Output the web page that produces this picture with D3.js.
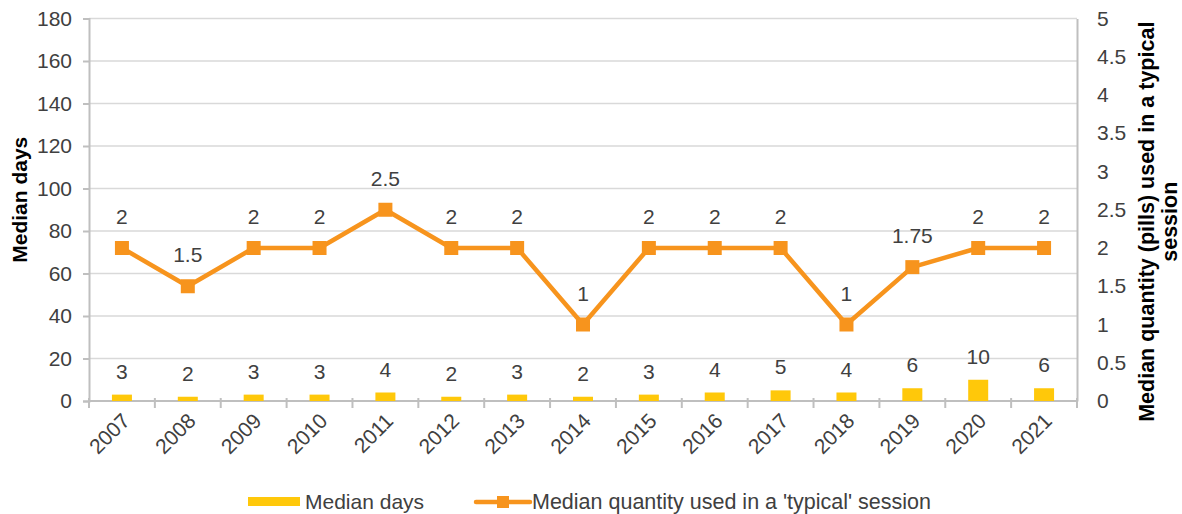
<!DOCTYPE html>
<html>
<head>
<meta charset="utf-8">
<script src="https://cdn.jsdelivr.net/npm/d3@7"></script>
<style>
  html, body { margin: 0; padding: 0; background: #fff; }
  svg { display: block; font-family: Arial, "Liberation Sans", sans-serif; }
</style>
</head>
<body>
<svg id="chart" width="1182" height="514"></svg>
<script>
// Years on the category axis
const years = ["2007","2008","2009","2010","2011","2012","2013","2014","2015","2016","2017","2018","2019","2020","2021"];
// Median days (bars, left axis)
const medianDays = [3, 2, 3, 3, 4, 2, 3, 2, 3, 4, 5, 4, 6, 10, 6];
// Median quantity used in a 'typical' session (line, right axis)
const medianQty = [2, 1.5, 2, 2, 2.5, 2, 2, 1, 2, 2, 2, 1, 1.75, 2, 2];
// Axis ticks
const leftTicks = [0, 20, 40, 60, 80, 100, 120, 140, 160, 180];
const rightTicks = [0, 0.5, 1, 1.5, 2, 2.5, 3, 3.5, 4, 4.5, 5];

const plot = { left: 89, right: 1077, top: 18.5, bottom: 401 };

const TEXT = "#404040", GRID = "#d9d9d9", AXIS = "#bfbfbf";
const BAR = "#ffc80a", LINE = "#f7941d";
const FS = 21;

const svg = d3.select("#chart");

const x = d3.scaleBand().domain(years).range([plot.left, plot.right]).paddingInner(0).paddingOuter(0);
const yL = d3.scaleLinear().domain([0, 180]).range([plot.bottom, plot.top]);
const yR = d3.scaleLinear().domain([0, 5]).range([plot.bottom, plot.top]);

// Horizontal gridlines
svg.append("g")
  .selectAll("line").data(leftTicks.filter(d => d > 0)).join("line")
  .attr("x1", plot.left).attr("x2", plot.right)
  .attr("y1", d => yL(d)).attr("y2", d => yL(d))
  .attr("stroke", GRID).attr("stroke-width", 1.3);

// Left axis
const gL = svg.append("g").attr("transform", `translate(${plot.left},0)`)
  .call(d3.axisLeft(yL).tickValues(leftTicks).tickSize(6).tickPadding(11).tickFormat(d3.format("d")));
gL.select(".domain").attr("stroke", AXIS).attr("stroke-width", 2);
gL.selectAll(".tick line").attr("stroke", AXIS).attr("stroke-width", 2);
gL.selectAll(".tick text").attr("fill", TEXT).attr("font-size", FS).attr("font-family", "Arial, 'Liberation Sans', sans-serif");

// Right axis
const gR = svg.append("g").attr("transform", `translate(${plot.right},0)`)
  .call(d3.axisRight(yR).tickValues(rightTicks).tickSize(0).tickPadding(20).tickFormat(d => String(d)));
gR.select(".domain").attr("stroke", AXIS).attr("stroke-width", 2);
gR.selectAll(".tick text").attr("fill", TEXT).attr("font-size", FS).attr("font-family", "Arial, 'Liberation Sans', sans-serif");

// Bottom axis with ticks between categories
svg.append("line")
  .attr("x1", plot.left).attr("x2", plot.right)
  .attr("y1", plot.bottom).attr("y2", plot.bottom)
  .attr("stroke", AXIS).attr("stroke-width", 2);
const bounds = years.map(d => x(d)).concat([x(years[years.length - 1]) + x.bandwidth()]);
svg.append("g").selectAll("line").data(bounds).join("line")
  .attr("x1", d => d).attr("x2", d => d)
  .attr("y1", plot.bottom - 3).attr("y2", plot.bottom + 7)
  .attr("stroke", AXIS).attr("stroke-width", 2);

// Year labels, rotated
svg.append("g").selectAll("text").data(years).join("text")
  .attr("transform", d => `translate(${x(d) + x.bandwidth() / 2 + 4},${plot.bottom + 16}) rotate(-45)`)
  .attr("text-anchor", "end").attr("dy", "0.35em")
  .attr("font-size", FS).attr("fill", TEXT)
  .text(d => d);

// Bars
const barW = 20;
svg.append("g").selectAll("rect").data(years).join("rect")
  .attr("x", (d) => x(d) + x.bandwidth() / 2 - barW / 2)
  .attr("width", barW)
  .attr("y", (d, i) => yL(medianDays[i]))
  .attr("height", (d, i) => yL(0) - yL(medianDays[i]))
  .attr("fill", BAR);

// Bar value labels
svg.append("g").selectAll("text").data(years).join("text")
  .attr("x", d => x(d) + x.bandwidth() / 2)
  .attr("y", (d, i) => yL(medianDays[i]) - 16)
  .attr("text-anchor", "middle").attr("font-size", FS).attr("fill", TEXT)
  .text((d, i) => medianDays[i]);

// Quantity line
const line = d3.line()
  .x((d, i) => x(years[i]) + x.bandwidth() / 2)
  .y(d => yR(d));
svg.append("path").datum(medianQty)
  .attr("d", line).attr("fill", "none")
  .attr("stroke", LINE).attr("stroke-width", 4.5).attr("stroke-linejoin", "round");

const mk = 14;
svg.append("g").selectAll("rect").data(medianQty).join("rect")
  .attr("x", (d, i) => x(years[i]) + x.bandwidth() / 2 - mk / 2)
  .attr("y", d => yR(d) - mk / 2)
  .attr("width", mk).attr("height", mk)
  .attr("fill", LINE);

// Quantity value labels
svg.append("g").selectAll("text").data(medianQty).join("text")
  .attr("x", (d, i) => x(years[i]) + x.bandwidth() / 2)
  .attr("y", d => yR(d) - 24)
  .attr("text-anchor", "middle").attr("font-size", FS).attr("fill", TEXT)
  .text(d => String(d));

// Axis titles
svg.append("text")
  .attr("transform", `translate(27,${(plot.top + plot.bottom) / 2 - 10}) rotate(-90)`)
  .attr("text-anchor", "middle").attr("font-size", 21).attr("font-weight", "bold").attr("fill", "#000")
  .text("Median  days");

const rt = svg.append("text")
  .attr("transform", `translate(1154,${(plot.top + plot.bottom) / 2 + 12}) rotate(-90)`)
  .attr("text-anchor", "middle").attr("font-size", 21.5).attr("font-weight", "bold").attr("fill", "#000");
rt.append("tspan").attr("x", 0).attr("dy", 0).text("Median quantity (pills)  used in a typical");
rt.append("tspan").attr("x", 0).attr("dy", 23).text("session");

// Legend
const lg = svg.append("g");
lg.append("rect").attr("x", 248).attr("y", 497).attr("width", 52).attr("height", 9).attr("fill", BAR);
lg.append("text").attr("x", 305).attr("y", 509).attr("font-size", FS).attr("fill", TEXT).text("Median days");
lg.append("line").attr("x1", 476).attr("x2", 530).attr("y1", 502).attr("y2", 502)
  .attr("stroke", LINE).attr("stroke-width", 4.5).attr("stroke-linecap", "round");
lg.append("rect").attr("x", 497).attr("y", 496).attr("width", 12).attr("height", 12).attr("fill", LINE);
lg.append("text").attr("x", 532).attr("y", 509).attr("font-size", 21.5).attr("fill", TEXT)
  .text("Median quantity used in a 'typical' session");
</script>
</body>
</html>
